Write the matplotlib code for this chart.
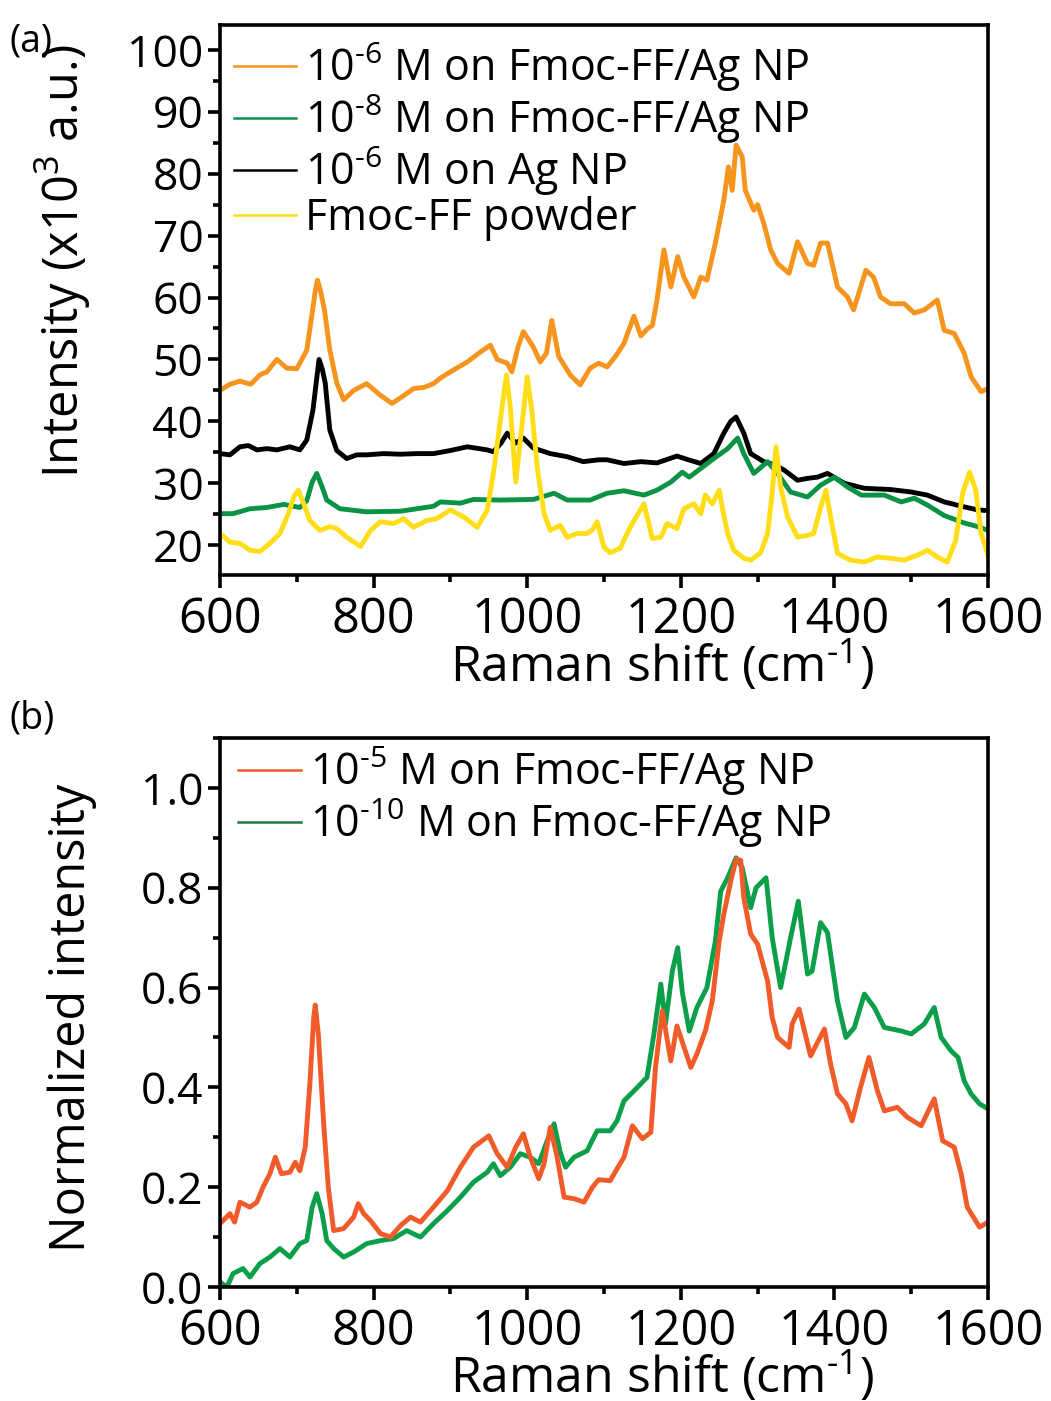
import matplotlib
matplotlib.use('Agg')
import matplotlib.pyplot as plt
from matplotlib.ticker import MultipleLocator, FormatStrFormatter

plt.rcParams['font.family'] = ['Open Sans', 'DejaVu Sans']
plt.rcParams['mathtext.fontset'] = 'custom'
plt.rcParams['mathtext.rm'] = 'Open Sans'
plt.rcParams['mathtext.default'] = 'regular'

# ---- panel (a) data, intensity in 10^3 a.u. ----
x_orange = [600, 613, 626, 640, 652, 661, 674, 687, 700, 713, 720, 724, 727, 731, 736, 743, 752, 761,
            774, 791, 809, 824, 835, 852, 866, 878, 887, 904, 922, 939, 952, 961, 974, 980, 988, 995,
            1008, 1017, 1025, 1032, 1041, 1056, 1069, 1082, 1093, 1104, 1115, 1126, 1139, 1148, 1157,
            1163, 1169, 1178, 1187, 1196, 1204, 1217, 1226, 1234, 1245, 1256, 1262, 1267, 1272, 1280,
            1284, 1295, 1300, 1308, 1317, 1326, 1341, 1352, 1365, 1373, 1382, 1391, 1404, 1417, 1425,
            1441, 1451, 1460, 1473, 1491, 1504, 1517, 1534, 1543, 1556, 1569, 1578, 1591, 1600]
y_orange = [45, 46, 46.5, 46, 47.5, 48, 50, 48.6, 48.5, 51.5, 57.5, 61, 62.8, 61, 58, 51.5, 46.2, 43.5,
            45, 46.1, 44.2, 42.9, 43.8, 45.3, 45.5, 46.1, 47, 48.3, 49.6, 51.2, 52.3, 50, 49.4, 48, 52, 54.5,
            52, 49.6, 51, 56.3, 50.5, 47.5, 45.9, 48.6, 49.4, 48.8, 50.5, 52.6, 57, 53.8, 55,
            55.5, 59.6, 67.7, 61.7, 66.6, 63.3, 60.1, 63.3, 62.8, 68.8, 75.7, 81.1, 77.3, 84.6, 82.7,
            77.3, 74.1, 75, 72, 67.7, 65.5, 63.9, 69, 65.5, 65.2, 68.8, 68.8, 61.7, 60.1, 58,
            64.4, 63.3, 60.1, 59, 59, 57.5, 58, 59.6, 54.7, 54.2, 51, 47.2, 44.8, 45.3]

x_black = [600, 613, 626, 637, 648, 661, 674, 691, 704, 713, 721, 726, 729, 733, 737, 743, 752, 765,
           778, 791, 813, 835, 856, 878, 900, 922, 948, 956, 966, 974, 985, 995, 1008, 1030, 1052,
           1073, 1093, 1104, 1126, 1148, 1169, 1195, 1210, 1226, 1243, 1256, 1265, 1272, 1282, 1291,
           1308, 1322, 1335, 1352, 1365, 1378, 1391, 1413, 1439, 1473, 1500, 1521, 1543, 1569, 1587, 1600]
y_black = [34.8, 34.6, 35.9, 36.1, 35.4, 35.6, 35.4, 35.9, 35.4, 37, 41.8, 47, 50, 48.5, 46.2, 38.6, 35.3, 34,
           34.6, 34.6, 34.8, 34.7, 34.8, 34.8, 35.3, 35.9, 35.4, 35.1, 36.5, 38.1, 36.5, 37.3, 35.7, 34.8, 34.3,
           33.5, 33.8, 33.8, 33.2, 33.5, 33.3, 34.4, 33.8, 33.2, 34.8, 38.1, 40, 40.7, 38.1, 34.8,
           33.5, 33, 32.1, 30.5, 30.8, 31, 31.6, 30, 29.2, 29, 28.6, 28.1, 27, 26.2, 25.7, 25.6]

x_green = [600, 617, 639, 661, 683, 704, 713, 720, 726, 733, 739, 756, 791, 835, 878, 887, 913, 930,
           965, 1008, 1035, 1052, 1082, 1104, 1126, 1152, 1169, 1187, 1202, 1211, 1226, 1243, 1261,
           1274, 1282, 1295, 1313, 1326, 1343, 1365, 1382, 1400, 1417, 1435, 1465, 1487, 1504, 1521,
           1543, 1569, 1587, 1600]
y_green = [25.1, 25.1, 25.9, 26.1, 26.6, 26.1, 27.2, 30.2, 31.6, 29.4, 27.3, 25.9, 25.4, 25.5, 26.3, 27, 26.8, 27.4,
           27.3, 27.4, 28.4, 27.3, 27.3, 28.4, 28.8, 28.1, 28.9, 30.2, 31.8, 31, 32.4, 34, 35.6,
           37.3, 34.8, 31.6, 33.5, 31.6, 28.6, 27.8, 29.7, 31, 29.4, 28.1, 28.1, 27, 27.6, 26.5,
           24.8, 23.6, 23, 22.4]

x_yellow = [600, 613, 626, 639, 652, 665, 678, 689, 696, 702, 709, 717, 730, 743, 752, 765, 783, 796,
            809, 826, 839, 852, 869, 882, 900, 917, 935, 948, 956, 965, 973, 978, 985, 993, 1000, 1006,
            1013, 1022, 1030, 1043, 1052, 1065, 1078, 1085, 1091, 1100, 1108, 1121, 1134, 1152, 1163,
            1174, 1182, 1195, 1204, 1217, 1226, 1232, 1241, 1250, 1254, 1261, 1269, 1282, 1291, 1304,
            1313, 1319, 1324, 1330, 1339, 1352, 1365, 1373, 1382, 1389, 1395, 1404, 1421, 1439, 1456,
            1473, 1491, 1508, 1521, 1534, 1547, 1558, 1567, 1576, 1584, 1591, 1600]
y_yellow = [21.9, 20.5, 20.3, 19.2, 19, 20.3, 21.9, 25.1, 27.8, 28.9, 26.7, 24, 22.4, 23, 22.7, 21.3, 19.8, 22.4,
            23.8, 23.5, 24.3, 22.9, 24, 24.3, 25.7, 24.6, 22.9, 25.7, 31.6, 40.2, 47.5, 42.3, 30.2, 39.1, 47.2, 41.8,
            32.6, 25.1, 22.4, 23.2, 21.3, 21.9, 21.9, 22.5, 23.8, 19.7, 18.8, 19.5, 22.9, 26.7, 21.1,
            21.3, 23.5, 22.7, 25.9, 26.7, 25.1, 28.1, 26.7, 28.9, 26.1, 21.9, 19.2, 17.9, 17.6, 18.8,
            21.9, 28.4, 35.9, 29.4, 24.6, 21.3, 21.6, 21.9, 26.1, 28.9, 24.6, 18.7, 17.6, 17.3, 18.1,
            17.9, 17.6, 18.4, 19.2, 18.1, 17.3, 20.8, 28.4, 31.8, 28.9, 21.9, 18.4]

# ---- panel (b) data, normalized ----
x_red = [600, 613, 619, 626, 639, 648, 656, 665, 672, 680, 691, 698, 704, 711, 717, 722, 724, 728, 735,
         741, 748, 761, 774, 780, 787, 796, 809, 822, 835, 848, 861, 878, 896, 913, 930, 950, 961, 974,
         985, 995, 1004, 1015, 1022, 1030, 1039, 1048, 1061, 1074, 1085, 1093, 1108, 1117, 1126, 1137,
         1150, 1161, 1167, 1176, 1187, 1195, 1213, 1221, 1232, 1241, 1250, 1256, 1265, 1272, 1278, 1282,
         1291, 1300, 1313, 1319, 1326, 1341, 1345, 1354, 1369, 1387, 1395, 1404, 1415, 1423, 1434, 1445,
         1456, 1465, 1482, 1495, 1513, 1530, 1541, 1556, 1565, 1573, 1589, 1600]
y_red = [0.127, 0.147, 0.13, 0.17, 0.16, 0.17, 0.2, 0.227, 0.26, 0.227, 0.23, 0.25, 0.233, 0.28, 0.407, 0.54, 0.565, 0.507, 0.327,
         0.2, 0.113, 0.117, 0.14, 0.167, 0.147, 0.133, 0.107, 0.1, 0.123, 0.14, 0.13, 0.16, 0.193, 0.24, 0.28, 0.303, 0.267, 0.24,
         0.28, 0.307, 0.26, 0.217, 0.247, 0.32, 0.26, 0.18, 0.177, 0.17, 0.2, 0.215, 0.213, 0.237, 0.26, 0.323,
         0.297, 0.31, 0.44, 0.553, 0.453, 0.523, 0.44, 0.467, 0.513, 0.573, 0.693, 0.747, 0.813, 0.857, 0.855, 0.78,
         0.707, 0.687, 0.613, 0.54, 0.5, 0.48, 0.527, 0.557, 0.463, 0.517, 0.447, 0.387, 0.367, 0.333, 0.4, 0.46,
         0.393, 0.353, 0.36, 0.34, 0.323, 0.377, 0.293, 0.28, 0.227, 0.16, 0.12, 0.13]

x_green_b = [600, 609, 617, 630, 639, 652, 665, 678, 691, 704, 713, 720, 726, 733, 739, 748, 761, 774,
             791, 809, 826, 843, 861, 878, 896, 913, 930, 948, 956, 965, 978, 991, 1004, 1015, 1026,
             1035, 1043, 1050, 1061, 1078, 1091, 1108, 1117, 1126, 1139, 1156, 1165, 1174, 1180, 1189,
             1196, 1202, 1211, 1221, 1234, 1245, 1252, 1261, 1272, 1280, 1291, 1298, 1311, 1319, 1330,
             1343, 1353, 1365, 1371, 1382, 1391, 1404, 1415, 1426, 1439, 1452, 1465, 1487, 1500, 1517,
             1530, 1539, 1552, 1561, 1569, 1578, 1589, 1600]
y_green_b = [0.01, 0.0, 0.027, 0.037, 0.02, 0.047, 0.06, 0.077, 0.06, 0.087, 0.093, 0.16, 0.187, 0.147, 0.093, 0.077, 0.06, 0.07,
             0.087, 0.093, 0.097, 0.113, 0.1, 0.127, 0.153, 0.18, 0.21, 0.23, 0.247, 0.223, 0.24, 0.267, 0.26, 0.247, 0.293,
             0.327, 0.27, 0.24, 0.26, 0.273, 0.313, 0.313, 0.333, 0.373, 0.393, 0.42, 0.507, 0.607, 0.527, 0.633,
             0.68, 0.59, 0.513, 0.56, 0.6, 0.693, 0.793, 0.82, 0.86, 0.84, 0.76, 0.8, 0.82, 0.7, 0.6,
             0.7, 0.773, 0.627, 0.633, 0.73, 0.71, 0.573, 0.5, 0.52, 0.587, 0.56, 0.52, 0.513, 0.507, 0.527,
             0.56, 0.5, 0.473, 0.46, 0.413, 0.387, 0.367, 0.357]

labels_a = [r'10$^{\text{-6}}$ M on Fmoc-FF/Ag NP', r'10$^{\text{-8}}$ M on Fmoc-FF/Ag NP',
            r'10$^{\text{-6}}$ M on Ag NP', 'Fmoc-FF powder']
labels_b = [r'10$^{\text{-5}}$ M on Fmoc-FF/Ag NP', r'10$^{\text{-10}}$ M on Fmoc-FF/Ag NP']
xlabel = r'Raman shift (cm$^{\text{-1}}$)'

c_orange = '#F7941D'
c_green = '#0A9344'
c_yellow = '#FFDE17'
c_red = '#F15A29'
c_green_b = '#0C9F4A'
lw = 3.5


def style_axis(ax):
    for s in ax.spines.values():
        s.set_linewidth(2.6)
    ax.set_xlim(600, 1600)
    ax.xaxis.set_major_locator(MultipleLocator(200))
    ax.xaxis.set_minor_locator(MultipleLocator(100))
    ax.tick_params(which='major', direction='out', length=9, width=2.6, pad=6)
    ax.tick_params(which='minor', direction='out', length=5, width=2.6)
    ax.tick_params(axis='x', labelsize=35)
    ax.tick_params(axis='y', labelsize=32, pad=3)
    ax.set_xlabel(xlabel, fontsize=36)
    ax.xaxis.set_label_coords(0.576, -0.114)


fig = plt.figure(figsize=(10.51, 14.01), dpi=100)

# panel (a)
ax1 = fig.add_axes([220 / 1051, 1 - 575 / 1401, 768 / 1051, 550 / 1401])
l_or, = ax1.plot(x_orange, y_orange, color=c_orange, lw=lw)
l_bk, = ax1.plot(x_black, y_black, color='black', lw=lw)
l_gr, = ax1.plot(x_green, y_green, color=c_green, lw=lw)
l_ye, = ax1.plot(x_yellow, y_yellow, color=c_yellow, lw=lw)
style_axis(ax1)
ax1.set_ylim(15.2, 104)
ax1.yaxis.set_major_locator(MultipleLocator(10))
ax1.yaxis.set_minor_locator(MultipleLocator(5))
ax1.set_ylabel(r'Intensity (x10$^3$ a.u.)', fontsize=35)
ax1.yaxis.set_label_coords(-0.165, 0.57)
leg1 = ax1.legend([l_or, l_gr, l_bk, l_ye], labels_a, loc='upper left', bbox_to_anchor=(-0.016, 1.02),
                  frameon=False, fontsize=31, handlelength=1.45, handletextpad=0.22,
                  labelspacing=-0.05, borderaxespad=0.2)
for ln in leg1.get_lines():
    ln.set_linewidth(1.8)

# panel (b)
ax2 = fig.add_axes([220 / 1051, 1 - 1287 / 1401, 768 / 1051, 549 / 1401])
g_b, = ax2.plot(x_green_b, y_green_b, color=c_green_b, lw=lw)
r_b, = ax2.plot(x_red, y_red, color=c_red, lw=lw)
style_axis(ax2)
ax2.set_ylim(0, 1.1)
ax2.yaxis.set_major_locator(MultipleLocator(0.2))
ax2.yaxis.set_minor_locator(MultipleLocator(0.1))
ax2.yaxis.set_major_formatter(FormatStrFormatter('%.1f'))
ax2.set_ylabel('Normalized intensity', fontsize=35)
ax2.yaxis.set_label_coords(-0.16, 0.49)
leg2 = ax2.legend([r_b, g_b], labels_b, loc='upper left', bbox_to_anchor=(-0.01, 1.035),
                  frameon=False, fontsize=31, handlelength=1.45, handletextpad=0.22,
                  labelspacing=-0.05, borderaxespad=0.2)
leg2.get_lines()[0].set_linewidth(1.8)
leg2.get_lines()[1].set_linewidth(1.8)
leg2.get_lines()[1].set_color('#1B7A45')

fig.text(0.009, 0.984, '(a)', fontsize=27, va='top', ha='left')
fig.text(0.009, 0.501, '(b)', fontsize=27, va='top', ha='left')

fig.savefig('out.png', dpi=100)
